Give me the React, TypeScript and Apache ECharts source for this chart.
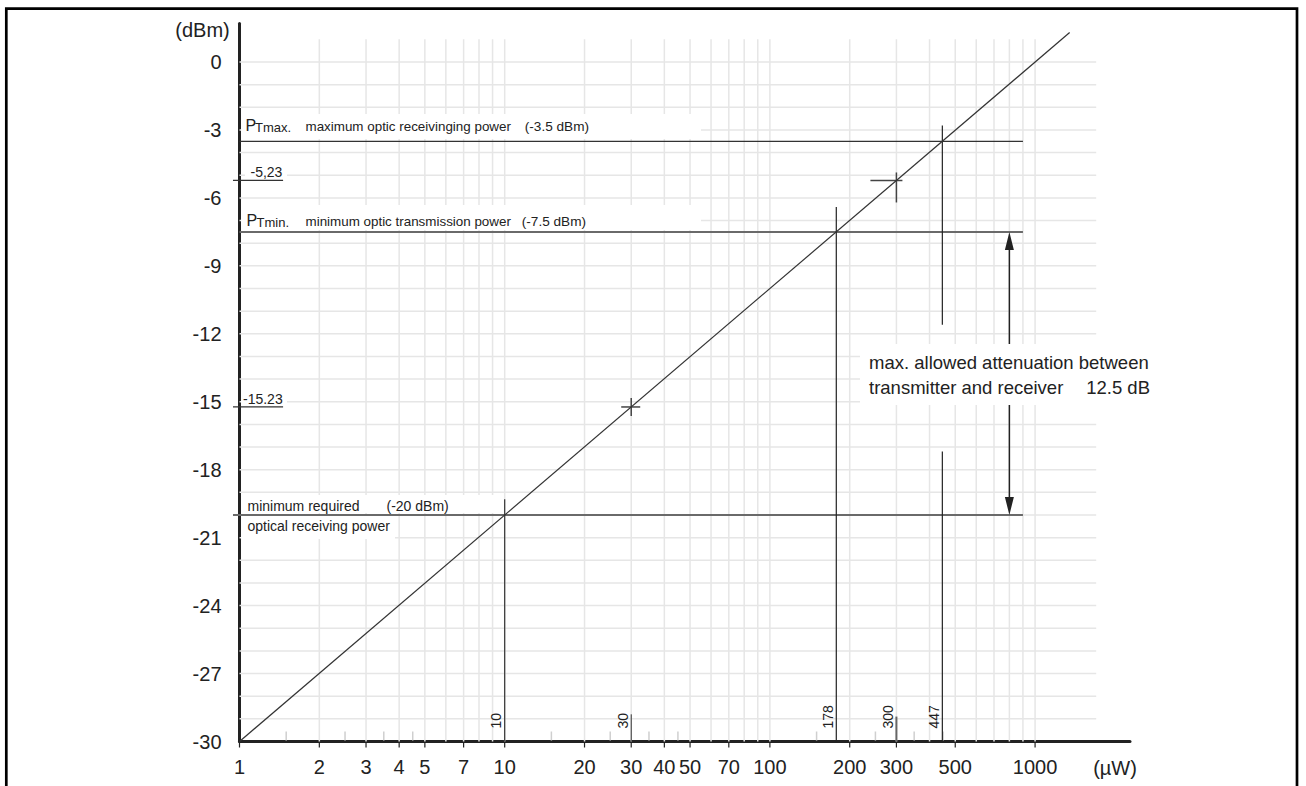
import React, { useEffect, useRef } from "react";
import * as echarts from "echarts";

const FONT = '"Liberation Sans", Arial, Helvetica, sans-serif';

// ---- data ----
const xTickValues = [1, 2, 3, 4, 5, 7, 10, 20, 30, 40, 50, 70, 100, 200, 300, 500, 1000];
const xMinorTickValues = [1.5, 2.5, 3.5, 4.5, 15, 25, 35, 45, 150, 250, 350, 450];
const xGridValues = [2, 3, 4, 5, 6, 7, 8, 9, 10, 20, 30, 40, 50, 60, 70, 80, 90, 100, 200, 300, 400, 500, 600, 700, 800, 900, 1000];
const yGridValues = [-29, -28, -27, -26, -25, -24, -23, -22, -21, -20, -19, -18, -17, -16, -15, -14, -13, -12, -11, -10, -9, -8, -7, -6, -5, -4, -3, -2, -1, 0];
const powerLine = [[1, -30], [1350, 1.3]];
// [dBm level, from µW, to µW]
const levelLines = [[-3.5, 1, 900], [-7.5, 1, 900], [-20, 0.945, 900]];
const markerLevels = [[-5.23, 0.945, 1.46], [-15.23, 0.945, 1.46]];
// [µW, from dBm, to dBm]
const dropLines = [[10, -30, -19.3], [178, -30, -6.4], [447, -30, -17.2], [447, -11.6, -2.8], [30, -30, -28.8], [300, -30, -28.9]];
const dropLabels = [10, 30, 178, 300, 447];
const crossPoints = [[30, -15.23], [300, -5.23]];
// [µW, from dBm, to dBm]
const attenuationArrow = [[800, -7.5, -20]];

// ---- styles ----
const dropStyles = [
  { stroke: "#333", lineWidth: 1.2 },
  { stroke: "#222", lineWidth: 1.2 },
  { stroke: "#222", lineWidth: 1.2 },
  { stroke: "#222", lineWidth: 1.2 },
  { stroke: "#333", lineWidth: 1 },
  { stroke: "#666", lineWidth: 2 },
];
const levelStyles = [
  { stroke: "#333", lineWidth: 1.2 },
  { stroke: "#6a6a6a", lineWidth: 2 },
  { stroke: "#6a6a6a", lineWidth: 2 },
];
const crossArms = [
  [10, 9, 9, 9],
  [26, 6, 8, 22],
];

function seg(api: any, p1: number[], p2: number[], style: any) {
  const a = api.coord(p1);
  const b = api.coord(p2);
  return { type: "line", shape: { x1: a[0], y1: a[1], x2: b[0], y2: b[1] }, style };
}

function txt(text: string, x: number, y: number, size: number, extra: any = {}) {
  return {
    type: "text",
    x,
    y,
    z: 20,
    style: {
      text,
      fill: "#222",
      font: `${size}px ${FONT}`,
      align: "left",
      textAlign: "left",
      verticalAlign: "middle",
      textVerticalAlign: "middle",
      ...extra,
    },
  };
}
const RIGHT = { align: "right", textAlign: "right" };

function box(x: number, y: number, w: number, h: number) {
  return { type: "rect", z: 19, shape: { x, y, width: w, height: h }, style: { fill: "#fff" } };
}

const option: any = {
  animation: false,
  backgroundColor: "#fff",
  grid: { left: 239.5, right: 176, top: 23.5, bottom: 44.5, containLabel: false, outerBoundsMode: "none" },
  xAxis: {
    type: "log",
    logBase: 10,
    min: 1,
    max: 2280,
    axisLine: { show: true, onZero: false, lineStyle: { color: "#222", width: 3 } },
    axisTick: { show: false },
    axisLabel: { show: false },
    splitLine: { show: false },
    minorTick: { show: false },
    minorSplitLine: { show: false },
  },
  yAxis: {
    type: "value",
    min: -30,
    max: 1.7,
    interval: 3,
    axisLine: { show: true, onZero: false, lineStyle: { color: "#222", width: 3 } },
    axisTick: { show: false },
    splitLine: { show: false },
    axisLabel: {
      fontSize: 20,
      color: "#222",
      fontFamily: FONT,
      margin: 18,
      showMaxLabel: false,
      formatter: (v: number) => (Math.abs(v % 3) < 1e-9 ? String(v) : ""),
    },
  },
  series: [
    {
      type: "custom",
      name: "vgrid",
      z: 1,
      data: xGridValues.map((v) => [v, -30]),
      renderItem: (p: any, api: any) =>
        seg(api, [api.value(0), -30], [api.value(0), 1], { stroke: "#e6e6e6", lineWidth: 1.5 }),
    },
    {
      type: "custom",
      name: "hgrid",
      z: 1,
      data: yGridValues.map((v) => [1, v]),
      renderItem: (p: any, api: any) =>
        seg(api, [1, api.value(1)], [1700, api.value(1)], { stroke: "#e6e6e6", lineWidth: 1.5 }),
    },
    {
      type: "custom",
      name: "minorTicks",
      z: 3,
      data: xMinorTickValues.map((v) => [v, -30]),
      renderItem: (p: any, api: any) => {
        const a = api.coord([api.value(0), -30]);
        return {
          type: "line",
          shape: { x1: a[0], y1: a[1] - 1, x2: a[0], y2: a[1] - 10 },
          style: { stroke: "#cfcfcf", lineWidth: 1.5 },
        };
      },
    },
    {
      type: "custom",
      name: "xTicks",
      z: 3,
      data: xTickValues.map((v) => [v, -30]),
      renderItem: (p: any, api: any) => {
        const v = api.value(0);
        const a = api.coord([v, -30]);
        return {
          type: "group",
          children: [
            {
              type: "line",
              shape: { x1: a[0], y1: a[1] + 1.5, x2: a[0], y2: a[1] + 6 },
              style: { stroke: "#222", lineWidth: 1.2 },
            },
            {
              type: "text",
              x: a[0],
              y: a[1] + 25.6,
              style: {
                text: String(v),
                fill: "#222",
                font: `20px ${FONT}`,
                align: "center",
                textAlign: "center",
                verticalAlign: "middle",
                textVerticalAlign: "middle",
              },
            },
          ],
        };
      },
    },
    {
      type: "custom",
      name: "levels",
      z: 4,
      data: levelLines.map(([y, x0, x1]) => [x0, y, x1]),
      renderItem: (p: any, api: any) =>
        seg(api, [api.value(0), api.value(1)], [api.value(2), api.value(1)], levelStyles[p.dataIndex]),
    },
    {
      type: "custom",
      name: "markers",
      z: 4,
      data: markerLevels.map(([y, x0, x1]) => [x0, y, x1]),
      renderItem: (p: any, api: any) =>
        seg(api, [api.value(0), api.value(1)], [api.value(2), api.value(1)], { stroke: "#333", lineWidth: 1.2 }),
    },
    {
      type: "custom",
      name: "drops",
      z: 4,
      data: dropLines,
      renderItem: (p: any, api: any) =>
        seg(api, [api.value(0), api.value(1)], [api.value(0), api.value(2)], dropStyles[p.dataIndex]),
    },
    {
      type: "custom",
      name: "dropLabels",
      z: 4,
      data: dropLabels.map((v) => [v, -30]),
      renderItem: (p: any, api: any) => {
        const v = api.value(0);
        const a = api.coord([v, -30]);
        return {
          type: "text",
          x: a[0] - 8.5,
          y: a[1] - 13,
          rotation: Math.PI / 2,
          style: {
            text: String(v),
            fill: "#222",
            font: `14px ${FONT}`,
            align: "left",
            textAlign: "left",
            verticalAlign: "middle",
            textVerticalAlign: "middle",
          },
        };
      },
    },
    {
      type: "custom",
      name: "crosses",
      z: 4,
      data: crossPoints,
      renderItem: (p: any, api: any) => {
        const c = api.coord([api.value(0), api.value(1)]);
        const [l, r, u, d] = crossArms[p.dataIndex];
        const st = { stroke: "#444", lineWidth: 1.5 };
        return {
          type: "group",
          children: [
            { type: "line", shape: { x1: c[0] - l, y1: c[1], x2: c[0] + r, y2: c[1] }, style: st },
            { type: "line", shape: { x1: c[0], y1: c[1] - u, x2: c[0], y2: c[1] + d }, style: st },
          ],
        };
      },
    },
    {
      type: "custom",
      name: "arrow",
      z: 4,
      data: attenuationArrow,
      renderItem: (p: any, api: any) => {
        const top = api.coord([api.value(0), api.value(1)]);
        const bot = api.coord([api.value(0), api.value(2)]);
        const x = top[0];
        const L = 18;
        const W = 4.5;
        return {
          type: "group",
          children: [
            {
              type: "line",
              shape: { x1: x, y1: top[1] + L - 2, x2: x, y2: bot[1] - L + 2 },
              style: { stroke: "#222", lineWidth: 1.5 },
            },
            {
              type: "polygon",
              shape: { points: [[x, top[1]], [x - W, top[1] + L], [x + W, top[1] + L]] },
              style: { fill: "#222" },
            },
            {
              type: "polygon",
              shape: { points: [[x, bot[1]], [x - W, bot[1] - L], [x + W, bot[1] - L]] },
              style: { fill: "#222" },
            },
          ],
        };
      },
    },
    {
      type: "line",
      name: "power",
      z: 5,
      data: powerLine,
      symbol: "none",
      showSymbol: false,
      lineStyle: { color: "#333", width: 1.2 },
    },
  ],
  graphic: [
    {
      type: "rect",
      z: 30,
      shape: { x: 6.3, y: 8.7, width: 1290.7, height: 800 },
      style: { fill: "none", stroke: "#000", lineWidth: 2.7 },
    },
    box(241, 114, 460, 25),
    box(241, 205, 460, 25),
    box(245, 163, 42, 16),
    box(241, 390, 46, 15),
    box(241, 495, 259, 18),
    box(241, 516, 154, 23),
    box(860, 344, 322, 61),
    txt("P", 245.5, 125.5, 16),
    txt("Tmax.", 255, 127, 13),
    txt("maximum optic receivinging power", 305.5, 126.2, 13.4),
    txt("(-3.5 dBm)", 589, 126.2, 13.6, RIGHT),
    txt("P", 246.5, 220.5, 16),
    txt("Tmin.", 256.5, 222, 13),
    txt("minimum optic transmission power", 305.5, 221.2, 13.4),
    txt("(-7.5 dBm)", 586, 221.2, 13.6, RIGHT),
    txt("-5,23", 250.5, 171.9, 14),
    txt("-15.23", 243, 398.5, 14),
    txt("minimum required", 247.5, 506, 14),
    txt("(-20 dBm)", 386.5, 506, 14),
    txt("optical receiving power", 247.5, 525.5, 14),
    txt("max. allowed attenuation between", 869, 362.9, 18.5),
    txt("transmitter and receiver", 869, 387.6, 18.5),
    txt("12.5 dB", 1150, 387.6, 18.5, RIGHT),
    txt("(dBm)", 202.5, 29.5, 20, { align: "center", textAlign: "center" }),
    txt("(µW)", 1115, 767.5, 20, { align: "center", textAlign: "center" }),
  ],
};

export default function App() {
  const ref = useRef<HTMLDivElement>(null);
  useEffect(() => {
    const chart = echarts.init(ref.current as HTMLDivElement, null, { renderer: "svg" });
    chart.setOption(option);
    return () => chart.dispose();
  }, []);
  return (
    <div
      ref={ref}
      style={{ position: "absolute", left: 0, top: 0, width: 1306, height: 786, background: "#fff" }}
    />
  );
}
